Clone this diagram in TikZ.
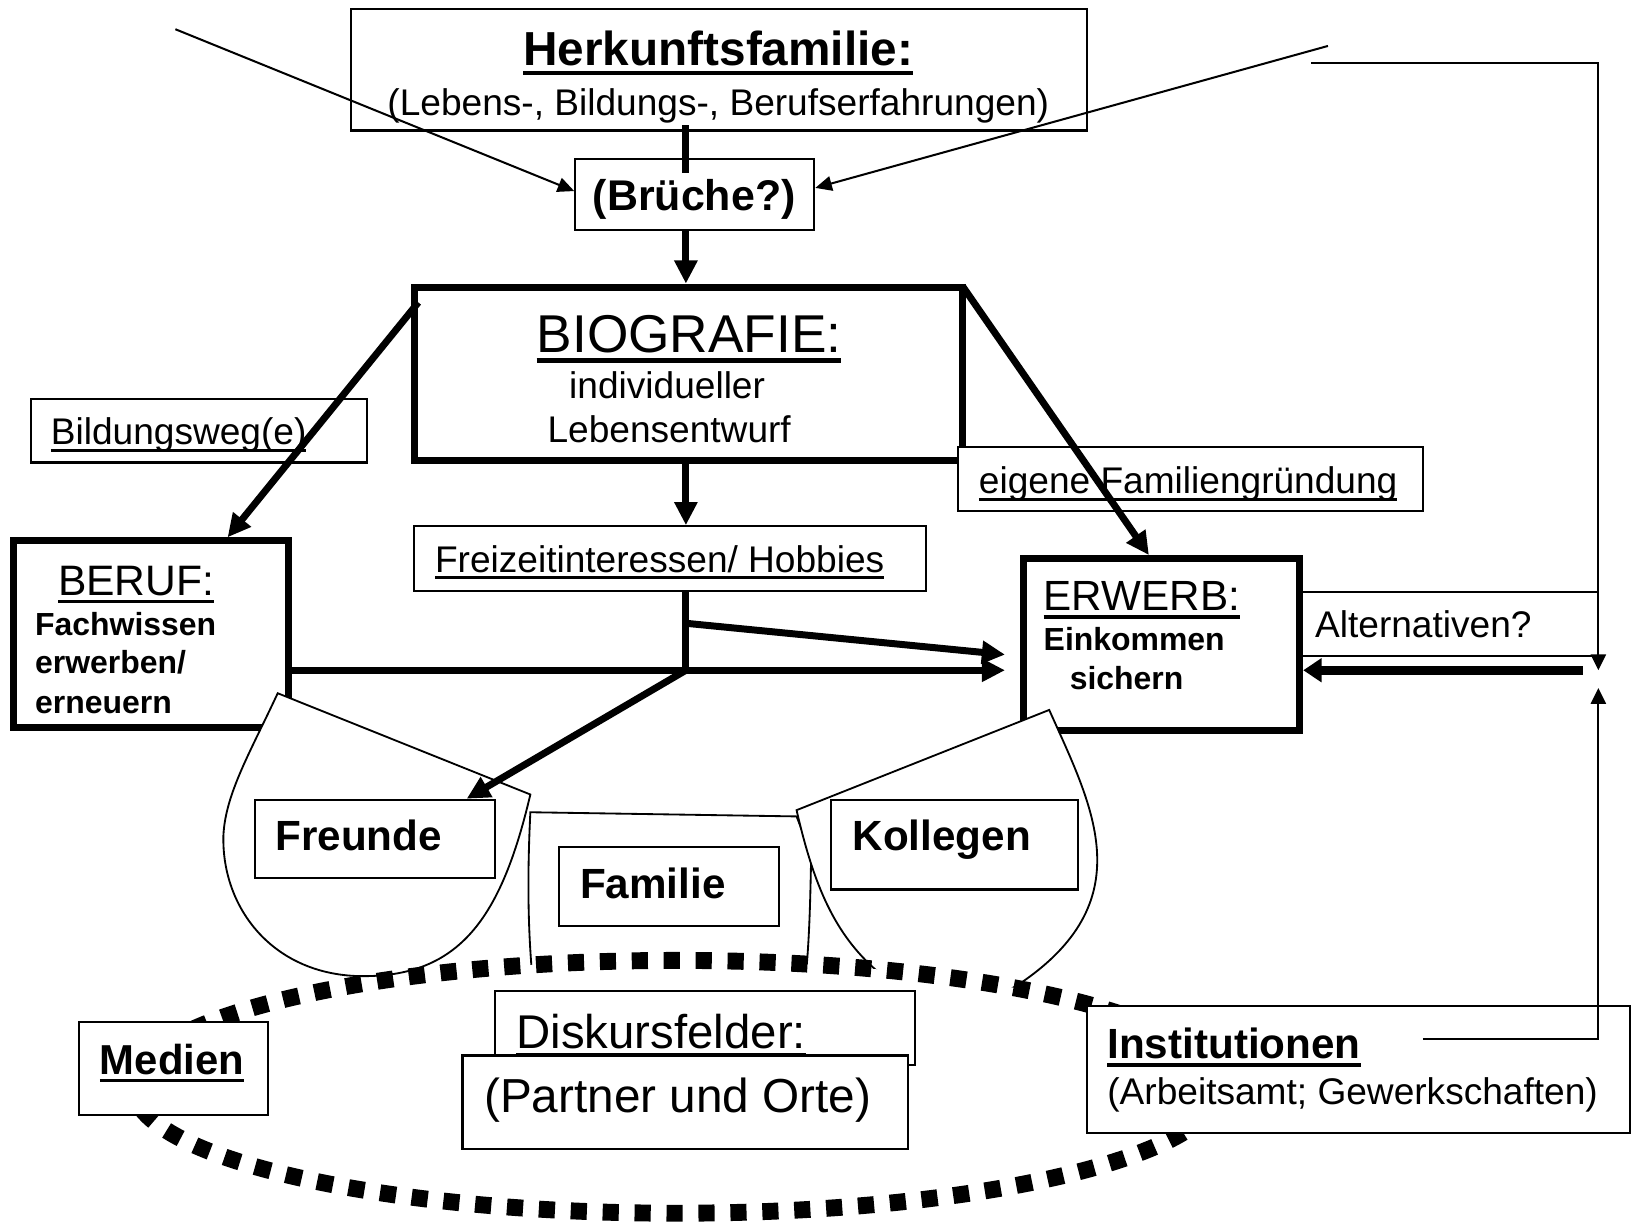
\documentclass[tikz,border=0pt]{standalone}
\usepackage{fontspec}
\setmainfont{Liberation Sans}
\usetikzlibrary{arrows.meta,fit,calc}
\newsavebox\ulbox
\newcommand\myul[1]{\sbox\ulbox{#1}\rlap{\rule[-0.19em]{\wd\ulbox}{0.085em}}\usebox\ulbox}
\newcommand\fsz[1]{\fontsize{#1pt}{#1pt}\selectfont}
\begin{document}
\begin{tikzpicture}[x=0.01cm,y=-0.01cm,
 tb/.style={draw, line width=0.55pt, fill=white, inner sep=0pt},
 Tb/.style={draw, line width=1.9pt, fill=white, inner sep=0pt},
 txt/.style={inner sep=0pt, anchor=base west},
 txc/.style={inner sep=0pt, anchor=base},
 thk/.style={line width=1.9pt},
 thkarr/.style={line width=1.9pt, -{Triangle[length=6.3pt,width=6pt]}},
 thkarrB/.style={line width=2.4pt, -{Triangle[length=5pt,width=6.3pt]}},
 thnarr/.style={line width=0.55pt, -{Triangle[length=4.5pt,width=4pt]}},
 vthn/.style={line width=0.55pt, -{Triangle[length=4.3pt,width=4.1pt]}},
 drop/.style={draw, line width=0.5pt, fill=white},
 dots/.style={draw, line width=4.6pt, dash pattern=on 4.4pt off 4.3pt, fill=white}
]
\useasboundingbox (0,0) rectangle (1568,1172);

% ---------- top ----------
\node[tb, fit={(336,9) (1041,125)}] (herk) {};
\node[txc] (herkT) at (688,63) {\fsz{13}\bfseries\myul{Herkunftsfamilie:}};
\node[txc] (herkS) at (688,111) {\fsz{10.1}(Lebens-, Bildungs-, Berufserfahrungen)};
\node[tb, fit={(551,152) (780,220)}] (bru) {};
\node[txc] (bruT) at (665,202) {\fsz{11.7}\bfseries (Brüche?)};

\coordinate (sp) at (657,0);
\coordinate (tl) at (168,28);
\coordinate (tr) at (1272,44);
\draw[thk] (sp |- herk.south) ++(0,-6) -- ++(0,46);
\draw[thnarr] (tl) -- ([yshift=0.03cm]bru.west);
\draw[thnarr] (tr) -- ([yshift=0.06cm]bru.east);

% ---------- middle boxes ----------
\node[Tb, fit={(397,275) (922,441)}] (bio) {};
\node[txc] (bioT) at (660,338) {\fsz{14.5}\myul{BIOGRAFIE:}};
\node[txc] (bio1) at (639,382) {\fsz{10.1}individueller};
\node[txc] (bio2) at (641,424) {\fsz{10.1}Lebensentwurf};

\node[tb, fit={(30,382) (352,443)}] (bild) {};
\node[txt] (bildT) at (48,426) {\fsz{10.1}\myul{Bildungsweg(e)}};
\node[tb, fit={(918,428) (1363,489)}] (eig) {};
\node[txt] (eigT) at (937,473) {\fsz{10.1}\myul{eigene Familiengründung}};
\node[tb, fit={(397,504) (887,566)}] (frei) {};
\node[txt] (freiT) at (416,548) {\fsz{10.1}\myul{Freizeitinteressen/ Hobbies}};

\node[Tb, fit={(13,518) (276,697)}] (beruf) {};
\node[txt] (berT) at (55,570) {\fsz{11.6}\myul{BERUF:}};
\node[txt] (ber1) at (33,609) {\fsz{8.7}\bfseries Fachwissen};
\node[txt] (ber2) at (33,645) {\fsz{8.7}\bfseries erwerben/};
\node[txt] (ber3) at (33,683) {\fsz{8.7}\bfseries erneuern};

\node[tb, fit={(1240,567) (1531,628)}] (alt) {};
\node[txt] (altT) at (1259,611) {\fsz{10.1}Alternativen?};

\node[Tb, fit={(980,535) (1245,700)}] (erw) {};
\node[txt] (erwT) at (999,585) {\fsz{11.5}\myul{ERWERB:}};
\node[txt] (erw1) at (999,623) {\fsz{8.7}\bfseries Einkommen};
\node[txt] (erw2) at (1024,660) {\fsz{8.7}\bfseries sichern};

% ---------- arrows middle ----------
\draw[thkarr] (sp |- bru.south) -- (sp |- bio.north);
\draw[thkarr] ([shift={(7,18)}]bio.north west) -- ([shift={(73.5,0)}]beruf.north);
\draw[thkarr] ([shift={(-3,3)}]bio.north east) -- ([shift={(-12,0)}]erw.north);
\draw[thkarr] (sp |- bio.south) -- (sp |- frei.north);

\coordinate (j) at (657,642);
\coordinate (j2) at (657,597);
\coordinate (etip) at ([xshift=-0.14cm]erw.west);
\draw[thk] (sp |- frei.south) -- (j);
\draw[thkarr] (beruf.east |- j) -- (etip |- j);
\draw[thkarr] (j2) -- ($(etip |- j)+(0,-15)$);

\coordinate (rt) at (1256,60);
\coordinate (dtip) at (1531,642);
\draw[vthn] (rt) -| (dtip);
\coordinate (as) at (1516,642);
\draw[thkarrB] (as) -- (erw.east |- as);

% ---------- drops ----------
\draw[drop] (266,664) -- (508,761) .. controls (480,880) and (440,935) .. (348,935)
  .. controls (262,935) and (212,870) .. (214,800) .. controls (216,760) and (240,720) .. (266,664) -- cycle;
\draw[drop] (513,965) .. controls (505,900) and (505,840) .. (508,778) -- (763,782) -- (777,818)
  .. controls (776,870) and (775,920) .. (768,965);
\draw[drop] (763,776) -- (1005,680) .. controls (1045,770) and (1095,860) .. (980,940)
  .. controls (930,975) and (870,960) .. (840,930) .. controls (800,895) and (780,850) .. (763,776) -- cycle;

\node[tb, fit={(244,766) (474,841)}] (freunde) {};
\node[txt] (freT) at (263,815) {\fsz{11.5}\bfseries Freunde};
\node[tb, fit={(535,811) (746,887)}] (familie) {};
\node[txt] (famT) at (555,861) {\fsz{11.5}\bfseries Familie};
\node[tb, fit={(796,766) (1033,852)}] (kollegen) {};
\node[txt] (kolT) at (816,815) {\fsz{11.5}\bfseries Kollegen};
\draw[thkarr] (j) -- ([shift={(88,0)}]freunde.north);

% ---------- bottom ----------
\draw[dots] (648,1041) ellipse [x radius=5.2cm, y radius=1.21cm];

\node[tb, fit={(76,979) (257,1068)}] (medien) {};
\node[txt] (medT) at (95,1029) {\fsz{11.4}\bfseries\myul{Medien}};
\node[tb, fit={(474,949) (876,1020)}] (disk) {};
\node[tb, fit={(443,1011) (870,1101)}] (partner) {};
\node[txt] (diskT) at (494,1004) {\fsz{12.9}\myul{Diskursfelder:}};
\node[txt] (partT) at (463,1066) {\fsz{13}(Partner und Orte)};
\node[tb, fit={(1041,964) (1561,1085)}] (inst) {};
\node[txt] (instT) at (1060,1014) {\fsz{11.5}\bfseries\myul{Institutionen}};
\node[txt] (inst2) at (1060,1058) {\fsz{10.1}(Arbeitsamt; Gewerkschaften)};

\coordinate (is) at (1363,995);
\coordinate (utip) at (1531,659);
\draw[vthn] (is) -| (utip);
\end{tikzpicture}
\end{document}
